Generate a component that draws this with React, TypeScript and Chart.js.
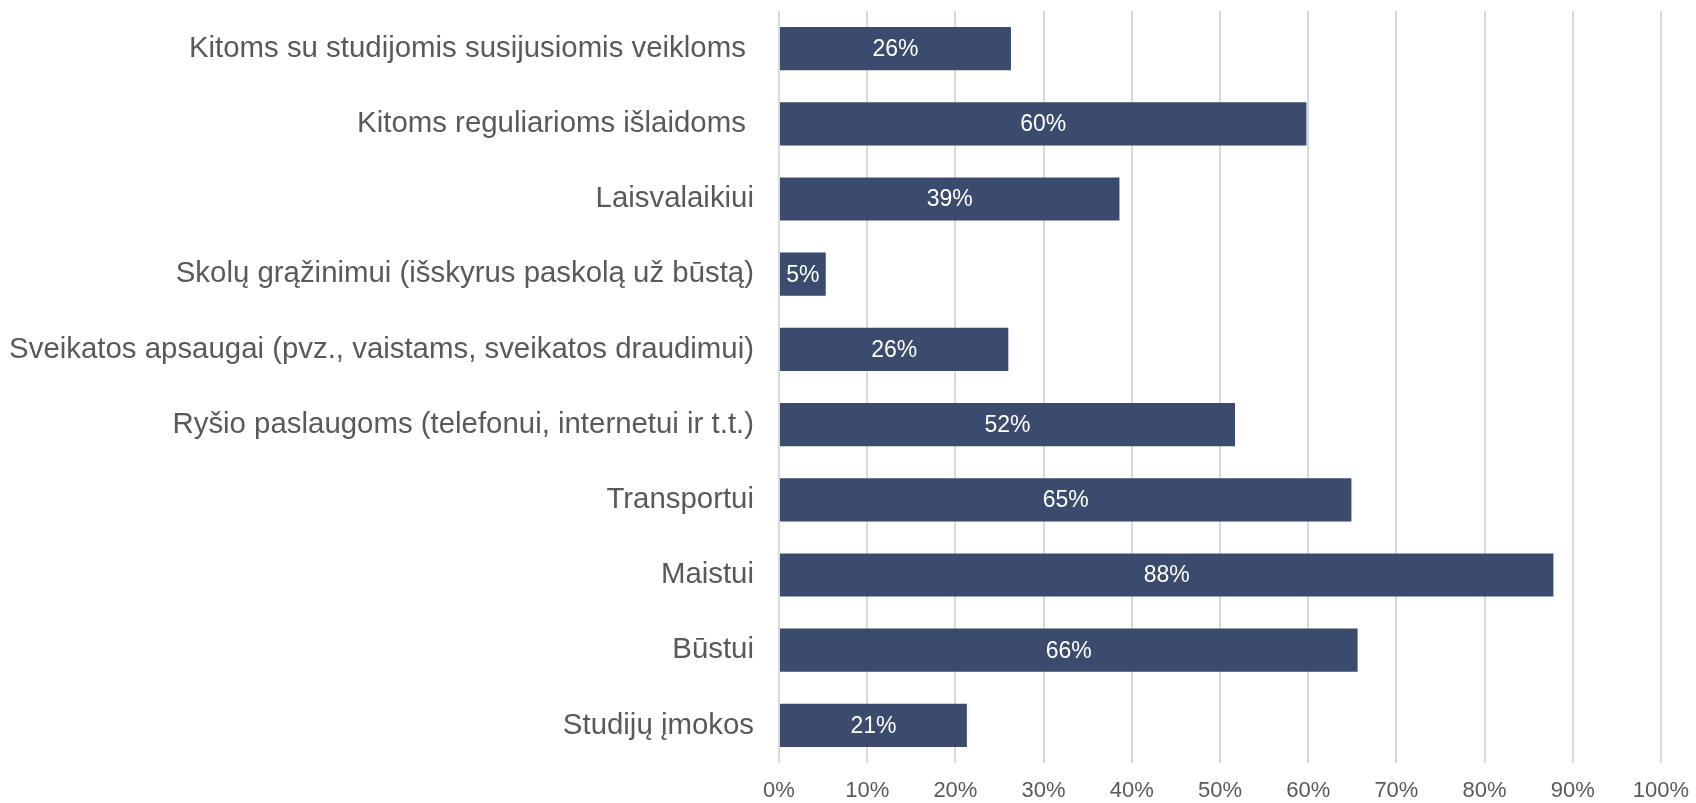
import React, { useEffect, useRef } from "react";
import { Chart, registerables } from "chart.js";

Chart.register(...registerables);

const categories: string[] = [
  "Kitoms su studijomis susijusiomis veikloms ",
  "Kitoms reguliarioms išlaidoms ",
  "Laisvalaikiui",
  "Skolų grąžinimui (išskyrus paskolą už būstą)",
  "Sveikatos apsaugai (pvz., vaistams, sveikatos draudimui)",
  "Ryšio paslaugoms (telefonui, internetui ir t.t.)",
  "Transportui",
  "Maistui",
  "Būstui",
  "Studijų įmokos",
];

const shares: number[] = [26.3, 59.8, 38.6, 5.3, 26.0, 51.7, 64.9, 87.8, 65.6, 21.3];

const xTicks: number[] = [0, 10, 20, 30, 40, 50, 60, 70, 80, 90, 100];

const FONT = '"Liberation Sans", Arial, sans-serif';

const dataLabelPlugin = {
  id: "barValueLabels",
  afterDatasetsDraw(chart: any) {
    const ctx = chart.ctx;
    const meta = chart.getDatasetMeta(0);
    const data = chart.data.datasets[0].data as number[];
    ctx.save();
    ctx.fillStyle = "#FFFFFF";
    ctx.font = `23px ${FONT}`;
    ctx.textAlign = "center";
    ctx.textBaseline = "middle";
    meta.data.forEach((bar: any, i: number) => {
      const cx = (bar.x + bar.base) / 2;
      ctx.fillText(`${Math.round(data[i])}%`, cx, bar.y + 1);
    });
    ctx.restore();
  },
};

export default function App() {
  const canvasRef = useRef<HTMLCanvasElement | null>(null);

  useEffect(() => {
    if (!canvasRef.current) return;
    const chart = new Chart(canvasRef.current, {
      type: "bar",
      data: {
        labels: categories,
        datasets: [
          {
            data: shares,
            backgroundColor: "#3A4B6D",
            borderWidth: 0,
            categoryPercentage: 1,
            barPercentage: 0.575,
          },
        ],
      },
      options: {
        indexAxis: "y",
        responsive: false,
        animation: false,
        layout: { padding: { top: 11, right: 35, left: 0, bottom: 0 } },
        plugins: {
          legend: { display: false },
          tooltip: { enabled: false },
        },
        scales: {
          x: {
            min: 0,
            max: 100,
            afterBuildTicks: (scale: any) => {
              scale.ticks = xTicks.map((v) => ({ value: v }));
            },
            afterFit: (scale: any) => {
              scale.height = 40;
              scale.paddingLeft = 0;
              scale.paddingRight = 0;
            },
            grid: {
              color: "#D9D9D9",
              lineWidth: 2,
              drawTicks: false,
            },
            border: { display: false },
            ticks: {
              padding: 15,
              color: "#595959",
              font: { family: FONT, size: 22 },
              callback: (v: any) => `${v}%`,
            },
          },
          y: {
            afterFit: (scale: any) => {
              scale.width = 779;
              scale.paddingTop = 0;
              scale.paddingBottom = 0;
            },
            grid: { display: false, drawTicks: false },
            border: { display: false },
            ticks: {
              padding: 25,
              color: "#595959",
              font: { family: FONT, size: 29.4 },
              autoSkip: false,
            },
          },
        },
      },
      plugins: [dataLabelPlugin],
    });
    return () => chart.destroy();
  }, []);

  return (
    <div style={{ position: "absolute", left: 0, top: 0, width: 1696, height: 803, background: "#FFFFFF" }}>
      <canvas ref={canvasRef} width={1696} height={803} style={{ display: "block" }} />
    </div>
  );
}
